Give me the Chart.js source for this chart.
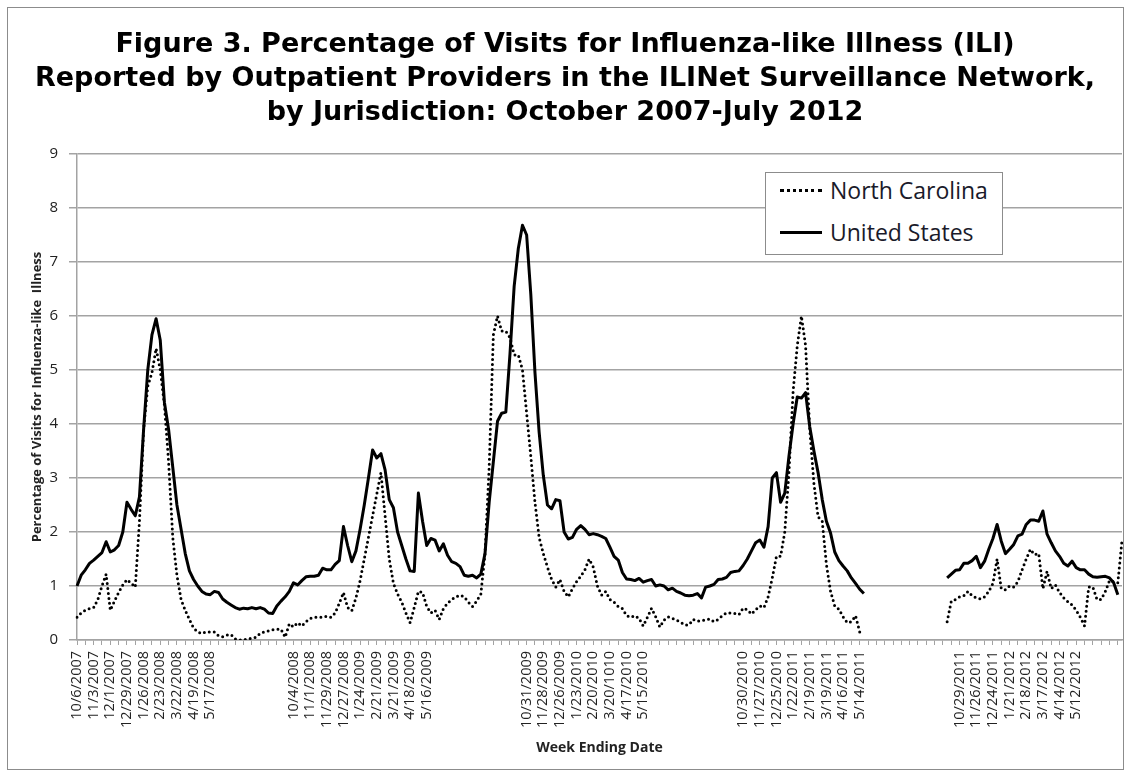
<!DOCTYPE html>
<html>
<head>
<meta charset="utf-8">
<script src="https://cdn.jsdelivr.net/npm/chart.js@4.4.1/dist/chart.umd.min.js"></script>
<style>
  html, body { margin: 0; padding: 0; background: #fff; }
  #wrap { position: relative; width: 1127px; height: 775px; }
  #frame { position: absolute; left: 7px; top: 7px; width: 1117px; height: 763px; border: 1px solid #8c8c8c; box-sizing: border-box; pointer-events: none; }
  #title { position: absolute; left: 0; top: 26px; width: 1130px; text-align: center; font: bold 27px "DejaVu Sans"; line-height: 34px; color: #000; }
  #legend { position: absolute; left: 765px; top: 172px; width: 238px; height: 83px; box-sizing: border-box; border: 1px solid #8c8c8c; background: #fff; font: 23px "Open Sans"; color: #1a1a2a; }
  .item { position: absolute; left: 14px; height: 30px; display: flex; align-items: center; white-space: nowrap; }
  .swatch { width: 42px; height: 0; margin-right: 8px; }
</style>
</head>
<body>
<div id="wrap">
  <canvas id="myChart" width="1127" height="775"></canvas>
  <div id="title">Figure 3. Percentage of Visits for Influenza-like Illness (ILI)<br>Reported by Outpatient Providers in the ILINet Surveillance Network,<br>by Jurisdiction: October 2007-July 2012</div>
  <div id="legend">
    <div class="item" style="top:2px"><span class="swatch" style="border-top:3px dotted #000"></span>North Carolina</div>
    <div class="item" style="top:44px"><span class="swatch" style="border-top:3.5px solid #000"></span>United States</div>
  </div>
  <div id="frame"></div>
</div>
<script>
// one label every 4 weeks, blank in the summer weeks
const tickLabels = [
  '10/6/2007', '11/3/2007', '12/1/2007', '12/29/2007', '1/26/2008', '2/23/2008', '3/22/2008', '4/19/2008', '5/17/2008',
  '', '', '', '',
  '10/4/2008', '11/1/2008', '11/29/2008', '12/27/2008', '1/24/2009', '2/21/2009', '3/21/2009', '4/18/2009', '5/16/2009',
  '', '', '', '', '',
  '10/31/2009', '11/28/2009', '12/26/2009', '1/23/2010', '2/20/2010', '3/20/1010', '4/17/2010', '5/15/2010',
  '', '', '', '', '',
  '10/30/2010', '11/27/2010', '12/25/2010', '1/22/2011', '2/19/2011', '3/19/2011', '4/16/2011', '5/14/2011',
  '', '', '', '', '',
  '10/29/2011', '11/26/2011', '12/24/2011', '1/21/2012', '2/18/2012', '3/17/2012', '4/14/2012', '5/12/2012',
  '', ''
];

// United States, weekly, 52 weeks per block
const us0708 = [1.0, 1.2, 1.3, 1.42, 1.48, 1.55, 1.62, 1.82, 1.63, 1.67,
  1.75, 2.0, 2.55, 2.42, 2.3, 2.65, 3.9, 5.0, 5.65, 5.95,
  5.55, 4.4, 3.9, 3.2, 2.5, 2.05, 1.6, 1.28, 1.12, 1.0,
  0.9, 0.85, 0.84, 0.9, 0.88, 0.76, 0.7, 0.65, 0.6, 0.57,
  0.59, 0.58, 0.6, 0.58, 0.6, 0.57, 0.5, 0.49, 0.63, 0.72,
  0.8, 0.9];
const us0809 = [1.06, 1.02, 1.1, 1.17, 1.18, 1.18, 1.2, 1.33, 1.3, 1.3,
  1.4, 1.47, 2.1, 1.75, 1.45, 1.65, 2.05, 2.5, 3.0, 3.52,
  3.37, 3.45, 3.15, 2.6, 2.45, 2.0, 1.75, 1.5, 1.28, 1.27,
  2.72, 2.2, 1.75, 1.88, 1.85, 1.65, 1.78, 1.57, 1.45, 1.42,
  1.36, 1.2, 1.18, 1.2, 1.15, 1.22, 1.6, 2.55, 3.3, 4.05,
  4.2, 4.22];
const us0910 = [5.3, 6.55, 7.25, 7.68, 7.5, 6.4, 4.95, 3.85, 3.05, 2.5,
  2.43, 2.6, 2.58, 2.0, 1.87, 1.9, 2.05, 2.12, 2.05, 1.95,
  1.97, 1.95, 1.92, 1.88, 1.72, 1.55, 1.48, 1.25, 1.13, 1.12,
  1.1, 1.14, 1.07, 1.1, 1.12, 1.0, 1.02, 1.0, 0.93, 0.96,
  0.9, 0.87, 0.83, 0.82, 0.83, 0.86, 0.78, 0.98, 1.0, 1.03,
  1.12, 1.13];
const us1011 = [1.16, 1.25, 1.27, 1.28, 1.38, 1.5, 1.65, 1.8, 1.85, 1.72,
  2.1, 3.0, 3.1, 2.55, 2.72, 3.4, 4.0, 4.5, 4.48, 4.58,
  3.95, 3.5, 3.1, 2.6, 2.2, 1.98, 1.63, 1.47, 1.37, 1.28,
  1.15, 1.05, 0.94, 0.86, null, null, null, null, null, null,
  null, null, null, null, null, null, null, null, null, null,
  null, null];
const us1112 = [null, 1.15, 1.22, 1.29, 1.3, 1.42, 1.42, 1.47, 1.55, 1.34,
  1.46, 1.68, 1.88, 2.14, 1.83, 1.6, 1.68, 1.77, 1.93, 1.96,
  2.14, 2.22, 2.22, 2.2, 2.39, 1.96, 1.8, 1.65, 1.55, 1.42,
  1.37, 1.46, 1.34, 1.3, 1.3, 1.22, 1.17, 1.16, 1.17, 1.18,
  1.15, 1.06, 0.84, null];

// North Carolina, same weeks
const nc0708 = [0.42, 0.5, 0.55, 0.58, 0.6, 0.75, 1.0, 1.22, 0.55, 0.72,
  0.88, 1.02, 1.12, 1.05, 0.98, 2.2, 3.9, 4.7, 4.95, 5.4,
  5.0, 4.35, 3.3, 1.9, 1.2, 0.75, 0.55, 0.38, 0.22, 0.15,
  0.12, 0.15, 0.15, 0.15, 0.08, 0.06, 0.09, 0.1, 0.02, 0.0,
  0.0, 0.02, 0.03, 0.05, 0.12, 0.15, 0.17, 0.19, 0.2, 0.2,
  0.05, 0.3];
const nc0809 = [0.24, 0.32, 0.26, 0.34, 0.4, 0.42, 0.42, 0.42, 0.44, 0.42,
  0.5, 0.68, 0.88, 0.6, 0.54, 0.78, 1.1, 1.5, 1.9, 2.3,
  2.7, 3.1, 2.3, 1.5, 1.05, 0.85, 0.7, 0.5, 0.32, 0.6,
  0.9, 0.88, 0.62, 0.5, 0.55, 0.38, 0.58, 0.68, 0.75, 0.8,
  0.83, 0.8, 0.7, 0.62, 0.72, 0.85, 1.6, 3.2, 5.65, 6.0,
  5.72, 5.72];
const nc0910 = [5.6, 5.28, 5.28, 5.0, 4.2, 3.4, 2.55, 1.9, 1.6, 1.35,
  1.12, 0.98, 1.12, 0.9, 0.8, 0.95, 1.08, 1.18, 1.3, 1.5,
  1.35, 1.0, 0.83, 0.9, 0.75, 0.7, 0.62, 0.58, 0.45, 0.42,
  0.45, 0.4, 0.26, 0.42, 0.59, 0.43, 0.24, 0.37, 0.43, 0.4,
  0.37, 0.33, 0.28, 0.28, 0.38, 0.35, 0.36, 0.37, 0.39, 0.34,
  0.38, 0.45];
const nc1011 = [0.5, 0.5, 0.49, 0.47, 0.59, 0.56, 0.48, 0.56, 0.63, 0.6,
  0.8, 1.15, 1.55, 1.55, 2.0, 3.1, 4.6, 5.45, 6.0, 5.45,
  3.9, 2.9, 2.28, 2.2, 1.4, 0.9, 0.63, 0.57, 0.43, 0.32,
  0.34, 0.45, 0.15, null, null, null, null, null, null, null,
  null, null, null, null, null, null, null, null, null, null,
  null, null];
const nc1112 = [null, 0.34, 0.72, 0.75, 0.8, 0.82, 0.9, 0.82, 0.78, 0.76,
  0.8, 0.9, 1.05, 1.5, 0.95, 0.93, 1.0, 0.98, 1.08, 1.3,
  1.5, 1.68, 1.58, 1.6, 0.95, 1.27, 0.95, 1.02, 0.88, 0.78,
  0.71, 0.65, 0.55, 0.42, 0.26, 0.98, 0.98, 0.75, 0.75, 0.9,
  1.1, 1.08, 1.06, 1.85];

const weeks = [];
tickLabels.forEach(t => weeks.push(t, '', '', ''));

const usIli = [].concat(us0708, us0809, us0910, us1011, us1112);
const ncIli = [].concat(nc0708, nc0809, nc0910, nc1011, nc1112);

const gridGray = '#a3a3a3';

new Chart(
  document.getElementById('myChart'),
  {
    type: 'line',
    data: {
      labels: weeks,
      datasets: [
        {
          label: 'North Carolina',
          data: ncIli,
          borderColor: '#000',
          borderWidth: 3,
          borderDash: [0, 5],
          borderCapStyle: 'round',
          borderJoinStyle: 'round',
          pointRadius: 0,
          tension: 0,
          spanGaps: false
        },
        {
          label: 'United States',
          data: usIli,
          borderColor: '#000',
          borderWidth: 3,
          borderJoinStyle: 'round',
          pointRadius: 0,
          tension: 0,
          spanGaps: false
        }
      ]
    },
    options: {
      responsive: false,
      animation: false,
      layout: {
        padding: { top: 154, right: 5, left: 0, bottom: 0 }
      },
      plugins: {
        legend: { display: false },
        tooltip: { enabled: false },
        title: { display: false }
      },
      scales: {
        x: {
          offset: false,
          afterFit: (s) => { s.height = 135; s.paddingLeft = 0; s.paddingRight = 0; },
          grid: {
            display: true,
            drawOnChartArea: false,
            drawTicks: true,
            tickLength: 5,
            tickWidth: 1,
            tickColor: (ctx) => ctx.index % 2 === 0 ? gridGray : 'rgba(0,0,0,0)'
          },
          border: { display: true, color: gridGray, width: 1.5 },
          ticks: {
            autoSkip: false,
            maxRotation: 90,
            minRotation: 90,
            padding: 6,
            color: '#222',
            font: { family: 'Open Sans', size: 14.5 }
          },
          title: {
            display: true,
            text: 'Week Ending Date',
            color: '#222',
            font: { family: 'Open Sans', size: 14, weight: 'bold' },
            padding: { top: 0, bottom: 19 }
          }
        },
        y: {
          min: 0,
          max: 9,
          afterFit: (s) => { s.width = 77; },
          grid: {
            color: gridGray,
            lineWidth: 1.5,
            drawTicks: true,
            tickLength: 8
          },
          border: { display: true, color: gridGray, width: 1.5 },
          ticks: {
            stepSize: 1,
            padding: 11,
            color: '#222',
            font: { family: 'Open Sans', size: 15 }
          },
          title: {
            display: true,
            text: 'Percentage of Visits for Influenza-like  Illness',
            color: '#222',
            font: { family: 'Open Sans', size: 13, weight: 'bold' },
            padding: { top: 29, bottom: 0 }
          }
        }
      }
    }
  }
);
</script>
</body>
</html>
